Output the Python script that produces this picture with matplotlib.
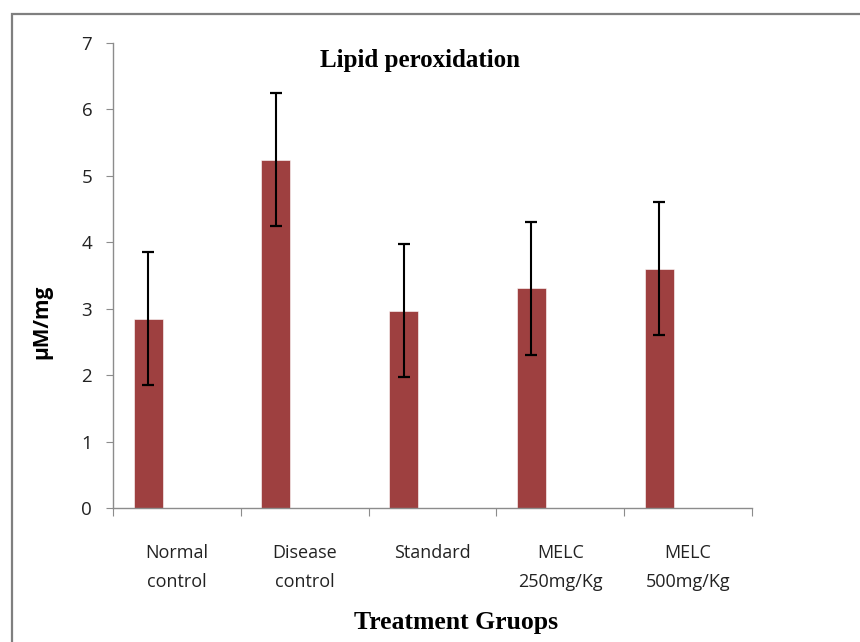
import numpy as np
from matplotlib import pyplot as plt
from matplotlib.patches import Rectangle

# data
groups = ["Normal\ncontrol", "Disease\ncontrol", "Standard", "MELC\n250mg/Kg", "MELC\n500mg/Kg"]
means = [2.85, 5.24, 2.97, 3.31, 3.60]
errors = [1.0, 1.0, 1.0, 1.0, 1.0]

bar_colour = "#9E4040"
axis_grey = "#8C8C8C"

fig = plt.figure(figsize=(8.6, 6.42), dpi=100)
ax = fig.add_axes([0.1314, 0.2087, 0.743, 0.7243])

# outer frame of the picture
fig.patches.append(Rectangle((12 / 860, -0.05), 1.0, 1 - 14 / 642 + 0.05,
                             transform=fig.transFigure, fill=False,
                             edgecolor="#7F7F7F", linewidth=1.6))

x = np.arange(len(groups))
ax.bar(x - 0.226, means, width=0.227, color=bar_colour, edgecolor="white", linewidth=0.4,
       yerr=errors, error_kw=dict(ecolor="black", elinewidth=1.5, capsize=4.5, capthick=1.6))

ax.set_xlim(-0.5, len(groups) - 0.5)
ax.set_ylim(0, 7)
ax.set_yticks(range(0, 8))

# category boundaries as major ticks, names as minor ticks
ax.set_xticks(np.arange(-0.5, len(groups), 1.0))
ax.set_xticklabels([])
ax.set_xticks(x, minor=True)
ax.set_xticklabels(groups, minor=True, fontsize=13, family="Open Sans", color="#222222",
                   linespacing=1.75)
ax.tick_params(axis="x", which="minor", length=0, pad=26)
ax.tick_params(axis="x", which="major", length=6, color=axis_grey, direction="out")
ax.tick_params(axis="y", length=5, color=axis_grey, direction="out", pad=10)
for lbl in ax.get_yticklabels():
    lbl.set_fontsize(13.5)
    lbl.set_family("Open Sans")
    lbl.set_color("#222222")

for s in ["top", "right"]:
    ax.spines[s].set_visible(False)
for s in ["left", "bottom"]:
    ax.spines[s].set_color(axis_grey)
    ax.spines[s].set_linewidth(1.0)

fig.text(420 / 860, 1 - 60 / 642, "Lipid peroxidation", ha="center", va="center",
         fontsize=18, fontweight="bold", family="Liberation Serif")
fig.text(456 / 860, 1 - 623 / 642, "Treatment Gruops", ha="center", va="center",
         fontsize=18.5, fontweight="bold", family="Liberation Serif")
fig.text(42 / 860, 1 - 322 / 642, "\u03bcM/mg", ha="center", va="center", rotation=90,
         fontsize=15, fontweight="bold", family="Open Sans")

plt.savefig("out.png", dpi=100)
